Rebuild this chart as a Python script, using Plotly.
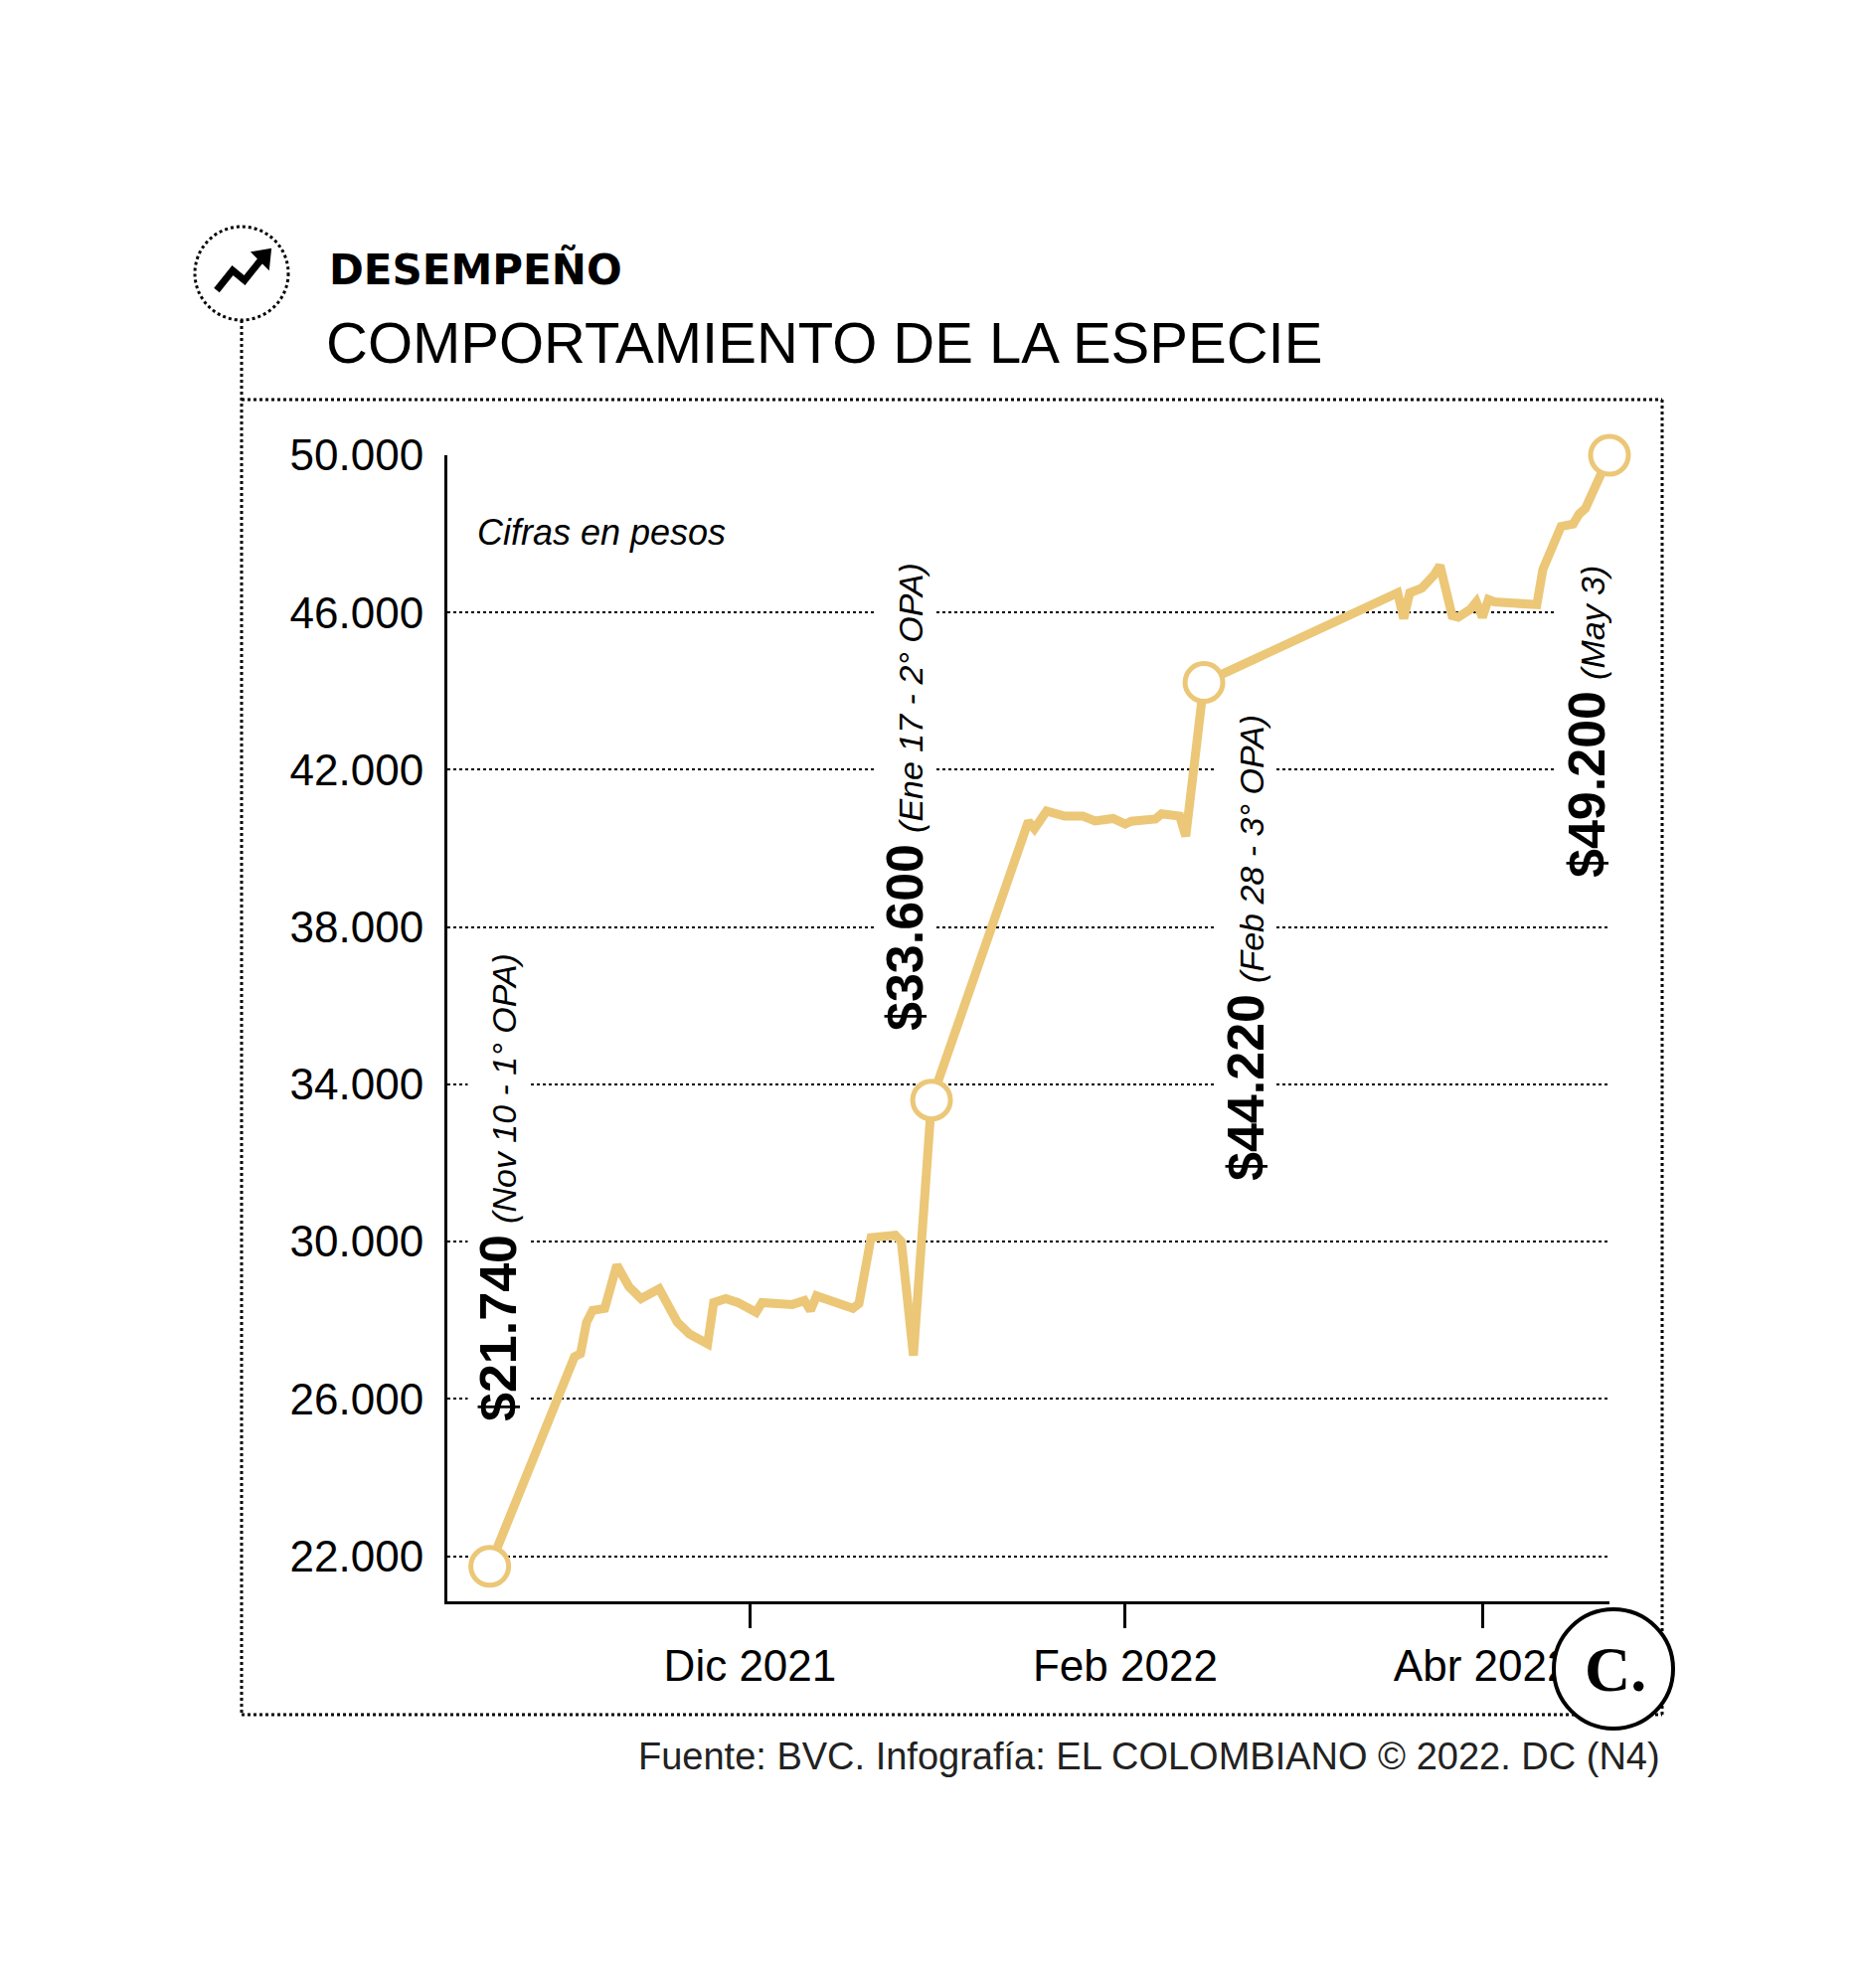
import plotly.graph_objects as go

dates = ["2021-10-19","2021-11-02","2021-11-03","2021-11-04","2021-11-05","2021-11-07","2021-11-09",
 "2021-11-11","2021-11-13","2021-11-16","2021-11-19","2021-11-21","2021-11-24","2021-11-25","2021-11-27",
 "2021-11-29","2021-12-02","2021-12-03","2021-12-08","2021-12-10","2021-12-11","2021-12-12","2021-12-18",
 "2021-12-19","2021-12-21","2021-12-25","2021-12-26","2021-12-28","2021-12-31","2022-01-16","2022-01-17",
 "2022-01-19","2022-01-22","2022-01-25","2022-01-27","2022-01-30","2022-02-01","2022-02-02","2022-02-06",
 "2022-02-07","2022-02-10","2022-02-11","2022-02-14","2022-03-18","2022-03-19","2022-03-20","2022-03-22",
 "2022-03-24","2022-03-25","2022-03-26","2022-03-27","2022-03-28","2022-03-30","2022-03-31","2022-04-01",
 "2022-04-02","2022-04-03","2022-04-10","2022-04-11","2022-04-14","2022-04-16","2022-04-17","2022-04-18",
 "2022-04-22"]
prices = [21740,27070,27150,27950,28250,28300,29400,28850,28550,28800,27950,27650,27400,28450,28550,
 28450,28200,28450,28400,28500,28250,28620,28300,28420,30100,30160,30000,27100,33600,40690,40500,
 40950,40820,40820,40700,40760,40620,40690,40750,40880,40820,40310,44220,46500,45850,46500,46620,
 46950,47200,46620,45920,45880,46080,46270,45880,46330,46270,46200,47100,48190,48250,48510,48640,
 50000]
key_dates = ["2021-10-19","2021-12-31","2022-02-14","2022-04-22"]
key_prices = [21740,33600,44220,50000]
key_values = ["$21.740","$33.600","$44.220","$49.200"]
key_notes = ["(Nov 10 - 1° OPA)","(Ene 17 - 2° OPA)","(Feb 28 - 3° OPA)","(May 3)"]
y_ticks = [22000,26000,30000,34000,38000,42000,46000,50000]
x_ticks = ["2021-12-01","2022-02-01","2022-04-01"]
x_ticklabels = ["Dic 2021","Feb 2022","Abr 2022"]

GOLD = "#EBC777"
FONT = "Liberation Sans"
L, R, T, B = 442, 1611, 450, 1603
def px(X): return (X - L) / (R - L)
def py(Y): return (B - Y) / (B - T)

fig = go.Figure()
fig.add_trace(go.Scatter(x=dates, y=prices, mode="lines", line=dict(color=GOLD, width=9), cliponaxis=False))
fig.add_trace(go.Scatter(x=key_dates, y=key_prices, mode="markers", cliponaxis=False,
    marker=dict(size=38, color="white", line=dict(color=GOLD, width=5))))

ann_pos = [(493,1187),(902,794),(1245,946),(1588,718)]
for (X, Y), v, n in zip(ann_pos, key_values, key_notes):
    t = f"<b><span style='font-size:52px'>{v}</span></b> <i><span style='font-size:34px'>{n}</span></i>"
    fig.add_annotation(xref="paper", yref="paper", x=px(X), y=py(Y), text=t, textangle=-90,
        xanchor="center", yanchor="middle", showarrow=False, bgcolor="white",
        font=dict(family=FONT, size=40, color="black"))
fig.add_annotation(xref="paper", yref="paper", x=px(470), y=py(527), xanchor="left", yanchor="middle",
    text="<i>Cifras en pesos</i>", showarrow=False, font=dict(family=FONT, size=36, color="black"))
fig.add_annotation(xref="paper", yref="paper", x=px(321), y=py(263), xanchor="left", yanchor="middle",
    text="<b>DESEMPEÑO</b>", showarrow=False, font=dict(family="DejaVu Sans", size=42, color="black"))
fig.add_annotation(xref="paper", yref="paper", x=px(318), y=py(337), xanchor="left", yanchor="middle",
    text="COMPORTAMIENTO DE LA ESPECIE", showarrow=False, font=dict(family=FONT, size=58, color="black"))
fig.add_annotation(xref="paper", yref="paper", x=px(1664), y=py(1759), xanchor="right", yanchor="middle",
    text="Fuente: BVC. Infografía: EL COLOMBIANO © 2022. DC (N4)",
    showarrow=False, font=dict(family=FONT, size=38, color="#222"))

dot = dict(color="black", width=3, dash="dot")
for x0, y0, x1, y1 in [(235,394,1664,394),(1664,394,1664,1717),(235,1717,1664,1717),(235,314,235,1717)]:
    fig.add_shape(type="line", xref="paper", yref="paper", x0=px(x0), y0=py(y0), x1=px(x1), y1=py(y1), line=dot)
# icon circle with trend arrow
fig.add_shape(type="circle", xref="paper", yref="paper", x0=px(188), x1=px(282), y0=py(220), y1=py(314),
    line=dot, fillcolor="white")
pts = [(210,284),(226,264),(238,274),(254,254)]
path = "M " + " L ".join(f"{px(a)},{py(b)}" for a, b in pts)
fig.add_shape(type="path", xref="paper", yref="paper", path=path, line=dict(color="black", width=7))
head = f"M {px(246)},{py(246)} L {px(264)},{py(243)} L {px(262)},{py(262)} Z"
fig.add_shape(type="path", xref="paper", yref="paper", path=head, fillcolor="black", line=dict(color="black", width=2))
# logo
fig.add_shape(type="circle", xref="paper", yref="paper", x0=px(1555), x1=px(1675), y0=py(1611), y1=py(1731),
    line=dict(color="black", width=4), fillcolor="white")
fig.add_annotation(xref="paper", yref="paper", x=px(1617), y=py(1671), xanchor="center", yanchor="middle",
    text="<b>C.</b>", showarrow=False, font=dict(family="Liberation Serif", size=64, color="black"))

fig.update_layout(width=1869, height=2000, margin=dict(l=L, r=1869-R, t=T, b=2000-B),
    paper_bgcolor="white", plot_bgcolor="white", showlegend=False, separators=",.",
    font=dict(family=FONT, color="black"))
fig.update_yaxes(range=[20850, 50000], tickvals=y_ticks, tickformat=",d", showgrid=True,
    gridcolor="black", griddash="dot", gridwidth=2, showline=True, linecolor="black", linewidth=3,
    ticks="", zeroline=False, tickfont=dict(size=44), ticklabelstandoff=12)
fig.update_xaxes(type="date", range=["2021-10-12","2022-04-22"], tickvals=x_ticks, ticktext=x_ticklabels,
    showgrid=False, showline=True, linecolor="black", linewidth=3, ticks="outside", ticklen=24,
    tickwidth=3, tickcolor="black", tickfont=dict(size=44), zeroline=False)
fig.write_html("out.html")
